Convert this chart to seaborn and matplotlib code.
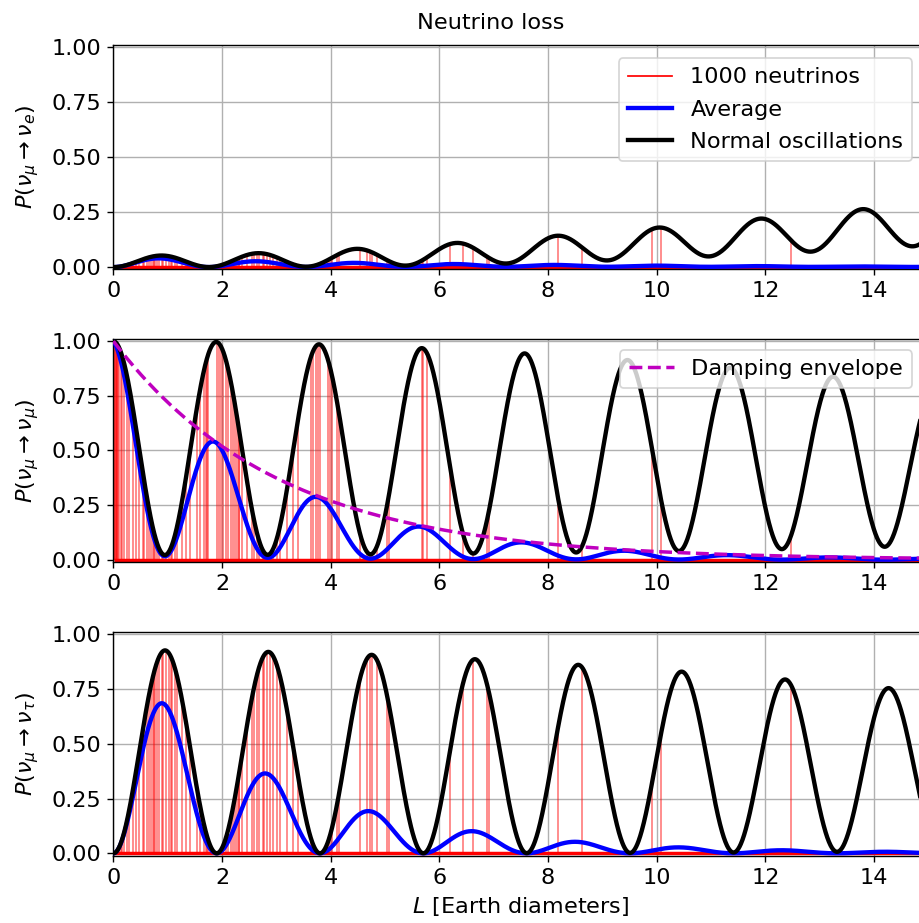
import numpy as np
import pandas as pd
import matplotlib
matplotlib.use("Agg")
import matplotlib.pyplot as plt
from matplotlib.lines import Line2D
import seaborn as sns

# ---- data ----
mixing_angles_deg = [33.4, 8.6, 50.0]        # theta12, theta13, theta23
mass_splittings = [7.2e-5, 2.5e-3]            # dm21^2, dm31^2 (eV^2)
fast_period = 1.864                           # Earth diameters (scale)
damping_length = 3.05                         # Earth diameters
x_ticks = [0, 2, 4, 6, 8, 10, 12, 14]
y_ticks = [0.0, 0.25, 0.5, 0.75, 1.0]
flavours = ["e", r"\mu", r"\tau"]
loss_positions = [
    0.01, 0.02, 0.03, 0.04, 0.05, 0.06, 0.075, 0.09, 0.11, 0.134, 0.16, 0.19,
    0.245, 0.29, 0.367, 0.416, 0.478, 0.539, 0.57, 0.613, 0.65, 0.686, 0.723,
    0.747, 0.766, 0.797, 0.846, 0.889, 0.919, 0.962, 1.03, 1.06, 1.085, 1.134,
    1.177, 1.257, 1.336, 1.41, 1.533, 1.594, 1.668, 1.704, 1.717, 1.747, 1.90,
    1.937, 1.974, 2.023, 2.07, 2.115, 2.159, 2.207, 2.238, 2.269, 2.306, 2.317,
    2.361, 2.453, 2.545, 2.594, 2.637, 2.686, 2.748, 2.778, 2.821, 2.882, 2.944,
    3.005, 3.066, 3.19, 3.311, 3.403, 3.631, 3.68, 3.729, 3.772, 3.803, 3.956,
    3.987, 4.018, 4.121, 4.158, 4.539, 4.662, 4.723, 4.754, 4.846, 5.03, 5.08,
    5.675, 5.705, 5.767, 6.195, 6.43, 6.625, 6.87, 6.92, 8.19, 8.62, 9.908,
    10.07, 12.48,
]

# ---- oscillation model ----
t12, t13, t23 = np.radians(mixing_angles_deg)
c12, s12, c13, s13, c23, s23 = (np.cos(t12), np.sin(t12), np.cos(t13),
                                np.sin(t13), np.cos(t23), np.sin(t23))
U = np.array([
    [c12 * c13, s12 * c13, s13],
    [-s12 * c23 - c12 * s23 * s13, c12 * c23 - s12 * s23 * s13, s23 * c13],
    [s12 * s23 - c12 * c23 * s13, -c12 * s23 - s12 * c23 * s13, c23 * c13],
])
m2 = np.array([0.0, mass_splittings[0], mass_splittings[1]])
kappa = 2 * np.pi / (mass_splittings[1] * fast_period)


def prob(beta, L):
    L = np.asarray(L, dtype=float)
    amp = np.zeros_like(L, dtype=complex)
    for i in range(3):
        amp += U[beta, i] * U[1, i] * np.exp(-1j * m2[i] * kappa * L)
    return np.abs(amp) ** 2


L = np.linspace(0, 15, 2000)
envelope = np.exp(-L / damping_length)
loss = np.array(loss_positions)

# ---- figure ----
plt.rcParams["font.size"] = 12.9
plt.rcParams["legend.labelspacing"] = 0.55
W, H, DPI = 919, 923, 125
fig = plt.figure(figsize=(W / DPI, H / DPI), dpi=DPI)
left = 113.4 / W
right = 928.4 / W
panels = [(45, 269.3), (339, 562), (632, 855.5)]
axes = []
for top, bot in panels:
    axes.append(fig.add_axes([left, 1 - bot / H, right - left, (bot - top) / H]))

for k, ax in enumerate(axes):
    beta = k
    normal = prob(beta, L)
    avg = normal * envelope
    df = pd.DataFrame({"L": L, "normal": normal, "avg": avg, "env": envelope})

    ax.vlines(loss, 0, prob(beta, loss), color="red", lw=1.0, alpha=0.5, zorder=2)
    ax.hlines(0, loss.min(), 15, color="red", lw=2.0, zorder=2)
    sns.lineplot(data=df, x="L", y="avg", ax=ax, color="b", lw=2.5, zorder=3)
    sns.lineplot(data=df, x="L", y="normal", ax=ax, color="k", lw=2.5, zorder=4)

    if k == 0:
        handles = [Line2D([], [], color="red", lw=1.0),
                   Line2D([], [], color="b", lw=2.5),
                   Line2D([], [], color="k", lw=2.5)]
        ax.legend(handles, ["1000 neutrinos", "Average", "Normal oscillations"],
                  loc="upper right", bbox_to_anchor=(0.994, 0.99))
    if k == 1:
        sns.lineplot(data=df, x="L", y="env", ax=ax, color="m", lw=2,
                     linestyle="--", zorder=5)
        handles = [Line2D([], [], color="m", lw=2, linestyle="--")]
        ax.legend(handles, ["Damping envelope"], loc="upper right",
                  bbox_to_anchor=(0.994, 1.0))

    ax.set_xlim(0, 15)
    ax.set_ylim(-0.01, 1.01)
    ax.set_xticks(x_ticks)
    ax.set_yticks(y_ticks)
    ax.set_yticklabels([f"{v:.2f}" for v in y_ticks])
    ax.grid(True)
    ax.set_xlabel("")
    ax.set_ylabel(r"$P(\nu_\mu \rightarrow \nu_{%s})$" % flavours[beta],
                  labelpad=6)

axes[2].set_xlabel(r"$L$ [Earth diameters]")
fig.suptitle("Neutrino loss", x=490.5 / W, y=1 - 23 / H, va="center", fontsize=12.9)

fig.savefig("out.png", dpi=DPI)
